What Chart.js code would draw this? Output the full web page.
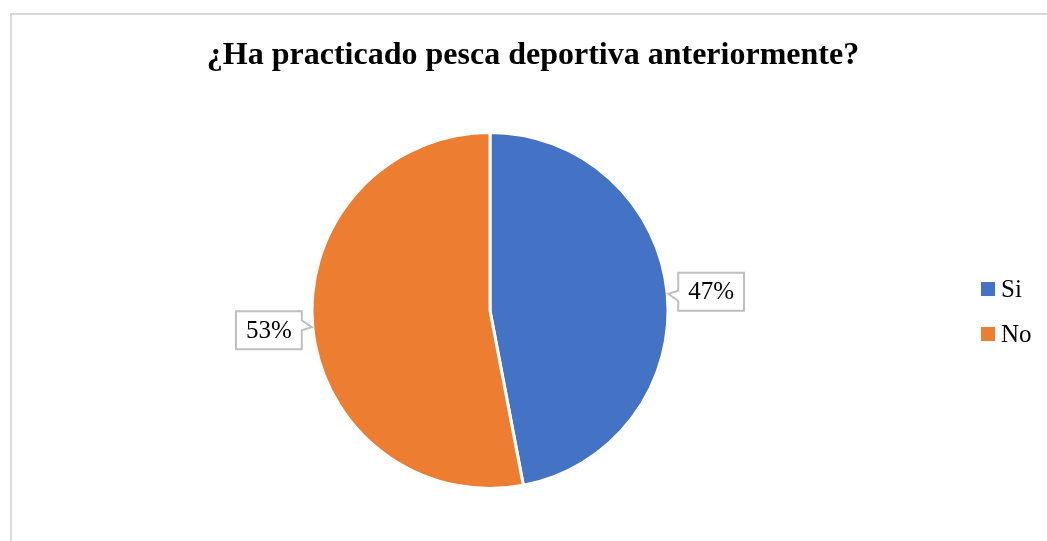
<!DOCTYPE html>
<html>
<head>
<meta charset="utf-8">
<script src="https://cdn.jsdelivr.net/npm/chart.js@4.4.1/dist/chart.umd.min.js"></script>
<style>
  html, body { margin: 0; padding: 0; background: #fff; }
  #wrap { width: 1047px; height: 541px; position: relative; }
</style>
</head>
<body>
<div id="wrap"><canvas id="pescaChart"></canvas></div>
<script>
const categories = ["Si", "No"];
const values = [47, 53];
const colors = ["#4472C4", "#ED7D31"];
const chartTitle = "¿Ha practicado pesca deportiva anteriormente?";

const serif = "'Liberation Serif', 'Times New Roman', serif";

// frame around the chart area plus the title
const framePlugin = {
  id: "frame",
  beforeDraw(chart) {
    const ctx = chart.ctx;
    ctx.save();
    ctx.strokeStyle = "#D9D9D9";
    ctx.lineWidth = 2;
    ctx.strokeRect(11, 14, chart.width + 20, chart.height + 20);
    ctx.fillStyle = "#000000";
    ctx.font = "bold 32px " + serif;
    ctx.textAlign = "center";
    ctx.textBaseline = "middle";
    ctx.fillText(chartTitle, 533, 56);
    ctx.restore();
  },
};

// percentage callouts next to each slice
const calloutPlugin = {
  id: "callouts",
  afterDatasetsDraw(chart) {
    const ctx = chart.ctx;
    const meta = chart.getDatasetMeta(0);
    const total = values.reduce((a, b) => a + b, 0);
    ctx.save();
    ctx.font = "25px " + serif;
    ctx.textBaseline = "middle";
    ctx.textAlign = "center";
    meta.data.forEach((arc, i) => {
      const p = arc.getProps(["x", "y", "startAngle", "endAngle", "outerRadius"], true);
      const mid = (p.startAngle + p.endAngle) / 2;
      const ax = p.x + Math.cos(mid) * p.outerRadius;
      const ay = p.y + Math.sin(mid) * p.outerRadius;
      const text = Math.round((values[i] / total) * 100) + "%";
      const w = ctx.measureText(text).width + 20;
      const h = 38;
      const right = Math.cos(mid) >= 0;
      const gap = 11;
      const bx = right ? ax + gap : ax - gap - w;
      const by = ay - h / 2 + (right ? -2 : 3);
      const cy = ay;
      ctx.beginPath();
      if (right) {
        ctx.moveTo(bx, by);
        ctx.lineTo(bx + w, by);
        ctx.lineTo(bx + w, by + h);
        ctx.lineTo(bx, by + h);
        ctx.lineTo(bx, cy + 7);
        ctx.lineTo(ax + 1, cy);
        ctx.lineTo(bx, cy - 3);
        ctx.closePath();
      } else {
        ctx.moveTo(bx, by);
        ctx.lineTo(bx + w, by);
        ctx.lineTo(bx + w, cy - 7);
        ctx.lineTo(ax - 1, cy);
        ctx.lineTo(bx + w, cy + 3);
        ctx.lineTo(bx + w, by + h);
        ctx.lineTo(bx, by + h);
        ctx.closePath();
      }
      ctx.fillStyle = "#FFFFFF";
      ctx.fill();
      ctx.strokeStyle = "#BFBFBF";
      ctx.lineWidth = 2;
      ctx.stroke();
      ctx.fillStyle = "#000000";
      ctx.fillText(text, bx + w / 2, by + h / 2 + 1);
    });
    ctx.restore();
  },
};

// legend on the right side
const sideLegendPlugin = {
  id: "sideLegend",
  afterDraw(chart) {
    const ctx = chart.ctx;
    ctx.save();
    ctx.font = "25px " + serif;
    ctx.textBaseline = "middle";
    ctx.textAlign = "left";
    categories.forEach((name, i) => {
      const y = 289 + i * 45;
      ctx.fillStyle = colors[i];
      ctx.fillRect(981, y - 7, 14, 14);
      ctx.fillStyle = "#000000";
      ctx.fillText(name, 1001, y + 1);
    });
    ctx.restore();
  },
};

new Chart(document.getElementById("pescaChart"), {
  type: "pie",
  data: {
    labels: categories,
    datasets: [
      {
        data: values,
        backgroundColor: colors,
        borderColor: "#FFFFFF",
        borderWidth: 3,
      },
    ],
  },
  options: {
    responsive: true,
    maintainAspectRatio: false,
    animation: false,
    layout: {
      padding: { top: 131, bottom: 51, left: 0, right: 67 },
    },
    plugins: {
      legend: { display: false },
      tooltip: { enabled: false },
      title: { display: false },
    },
  },
  plugins: [framePlugin, calloutPlugin, sideLegendPlugin],
});
</script>
</body>
</html>
